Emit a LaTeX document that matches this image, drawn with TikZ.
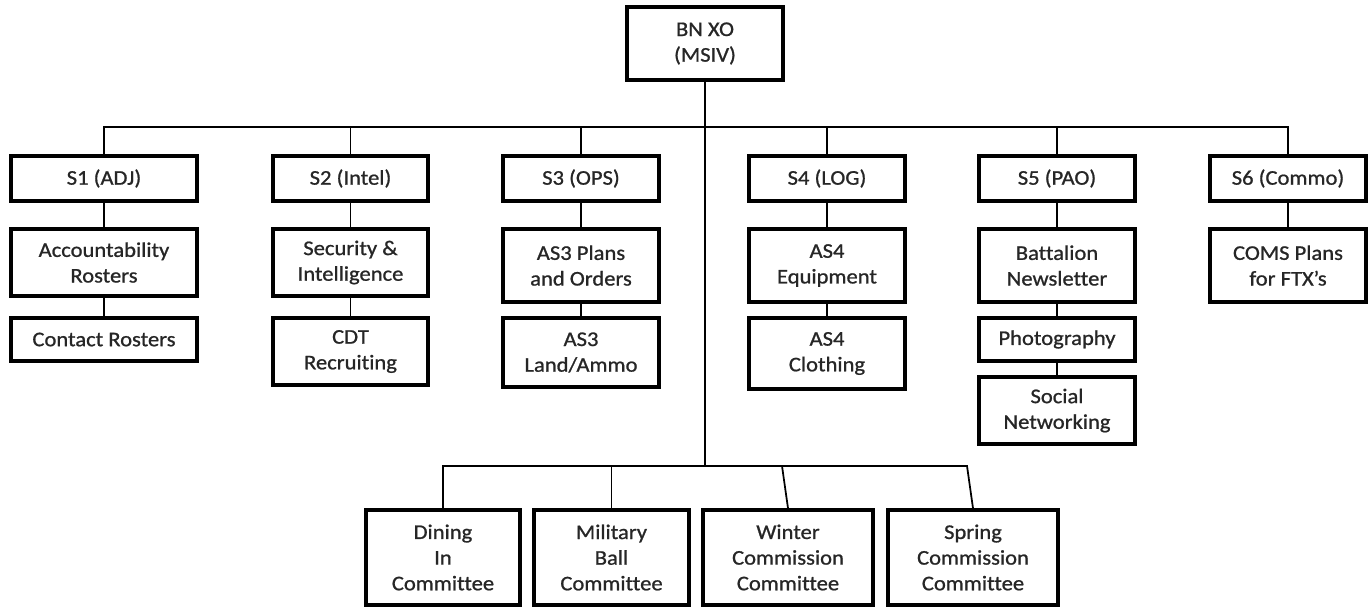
\documentclass[tikz,border=0pt]{standalone}
\usepackage{fontspec}
\usepackage{tikz}
\usetikzlibrary{positioning, calc}
\newfontfamily\chartfont[FakeStretch=1.08, FakeBold=0.9, Ligatures=CommonOff]{Carlito}
\tikzset{
	chartbox/.style ={rectangle, draw=black, line width=2pt, fill=white, align=center, inner sep=1pt,
		text=black!85, font=\chartfont\fontsize{11.9}{14.6}\selectfont, minimum width=3.12cm},
	head/.style     ={chartbox, minimum height=0.9cm},
	task/.style     ={chartbox, minimum height=1.46cm},
	committee/.style={chartbox, minimum height=1.9cm},
	% connector styles
	tie/.style      ={line width=1pt, black},
}
\begin{document}
\begin{tikzpicture}[x=0.02cm, y=-0.02cm]
	\useasboundingbox (0,0) rectangle (1371,608);
	\node[task] (xo) at (705,43.5) {BN XO\\(MSIV)};
	% staff sections
	\node[head, minimum width=3.72cm] (s1) at (104,178.5)   {S1 (ADJ)};
	\node[head, minimum width=3.10cm] (s2) at (350.5,178.5) {S2 (Intel)};
	\node[head] (s3) at (581,178.5)  {S3 (OPS)};
	\node[head] (s4) at (827,178.5)  {S4 (LOG)};
	\node[head] (s5) at (1057,178.5) {S5 (PAO)};
	\node[head] (s6) at (1288,178.5) {S6 (Commo)};
	% tasks
	\node[task, minimum width=3.72cm, minimum height=1.34cm] (acc) at (104,262.5) {Accountability\\Rosters};
	\node[task, minimum width=3.72cm, minimum height=0.86cm] (contact) at (104,339.5) {Contact Rosters};
	\node[task, minimum width=3.10cm, minimum height=1.34cm] (sec) at (350.5,262.5) {Security \&\\Intelligence};
	\node[task, minimum width=3.10cm, minimum height=1.34cm] (cdt) at (350.5,351.5) {CDT\\Recrui\kern0pt ting};
	\node[task] (plans3) at (581,265.5) {AS3 Plans\\and Orders};
	\node[task, minimum height=1.38cm] (land3) at (581,352.5) {AS3\\Land/Ammo};
	\node[task] (equip4) at (827,265.5) {AS4\\Equipment};
	\node[task, minimum height=1.42cm] (cloth4) at (827,353.5) {AS4\\Clothing};
	\node[task] (news5) at (1057,265.5) {Battalion\\Newsletter};
	\node[task, minimum height=0.86cm] (photo5) at (1057,339.5) {Photography};
	\node[task, minimum height=1.34cm] (social5) at (1057,410.5) {Social\\Networking};
	\node[task] (coms6) at (1288,265.5) {COMS Plans\\for FTX’s};
	% committees
	\node[committee, minimum width=3.08cm] (dining)   at (443,557.5)   {Dining\\In\\Committee};
	\node[committee, minimum width=3.10cm] (military) at (611.5,557.5) {Military\\Ball\\Committee};
	\node[committee, minimum width=3.40cm] (winter)   at (788,557.5)   {Winter\\Commission\\Committee};
	\node[committee, minimum width=3.40cm] (spring)   at (973,557.5)   {Spring\\Commission\\Committee};
	\coordinate (busTop) at (705,127);
	\coordinate (busLow) at (705,466);
	\coordinate (winterTap) at (782,466);
	\coordinate (springTap) at (967,466);
	\draw[tie] (xo.south) -- (busLow);
	\foreach \s in {s1,s2,s3,s4,s5,s6}
		\draw[tie] (\s.north) |- (busTop);
	\draw[tie] (s1) -- (acc) -- (contact);
	\draw[tie] (s2) -- (sec) -- (cdt);
	\draw[tie] (s3) -- (plans3) -- (land3);
	\draw[tie] (s4) -- (equip4) -- (cloth4);
	\draw[tie] (s5) -- (news5) -- (photo5) -- (social5);
	\draw[tie] (s6) -- (coms6);
	\draw[tie] (dining.north) |- (busLow);
	\draw[tie] (military.north) |- (busLow);
	\draw[tie] (winter.north) -- (winterTap) -- (busLow);
	\draw[tie] (spring.north) -- (springTap) -- (winterTap);
\end{tikzpicture}
\end{document}
